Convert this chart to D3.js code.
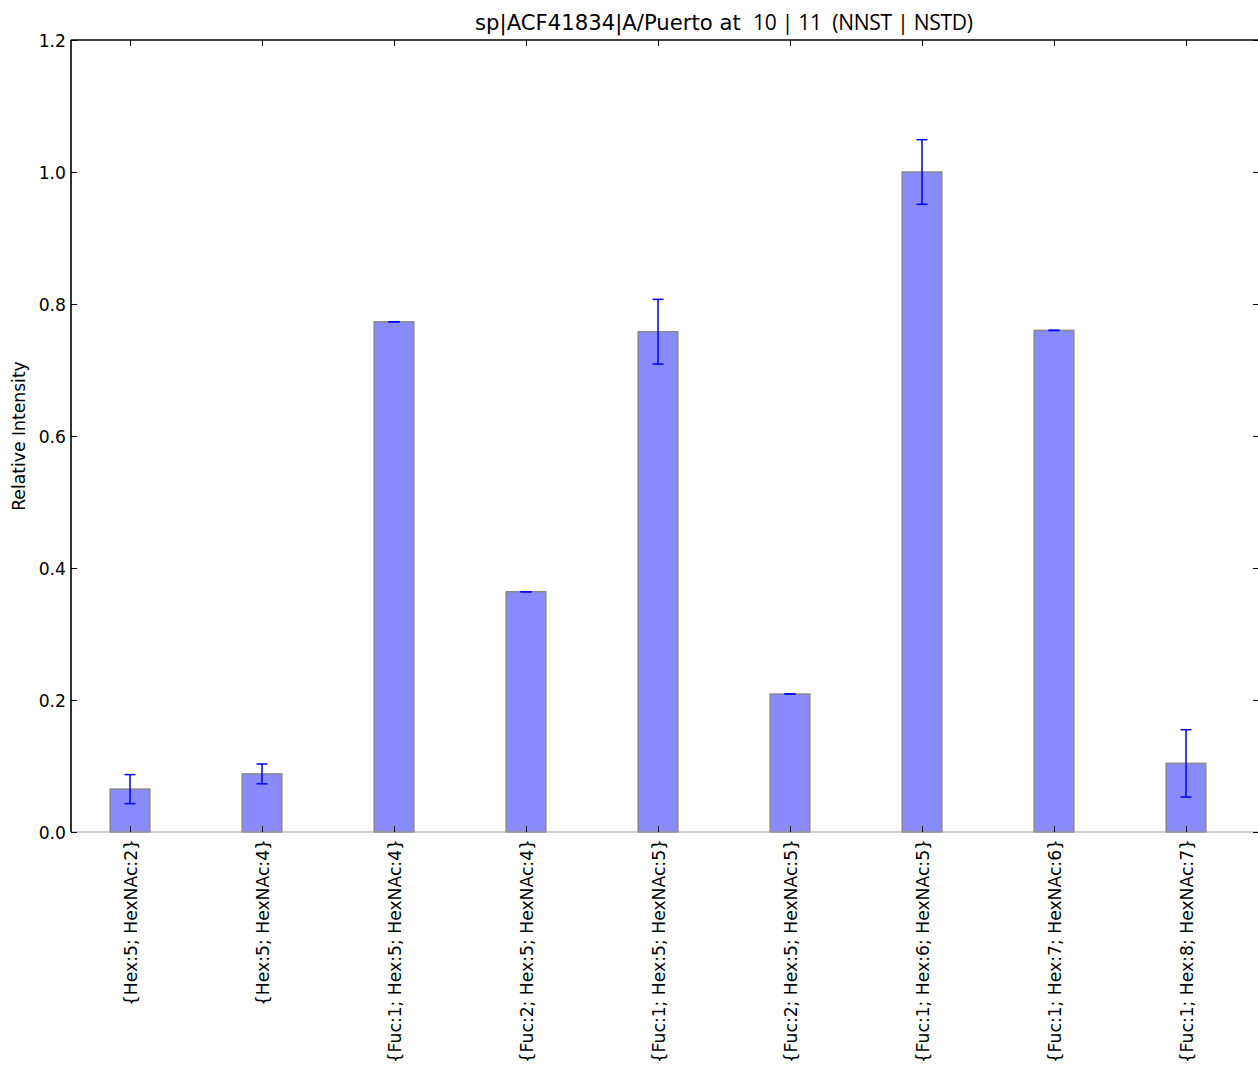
<!DOCTYPE html>
<html><head><meta charset="utf-8">
<script src="https://cdn.jsdelivr.net/npm/d3@7"></script>
<style>body{margin:0;background:#fff}svg{display:block}text{font-family:"DejaVu Sans",sans-serif}</style>
</head><body><div id="chart"></div>
<script>
const categories = ["{Hex:5; HexNAc:2}","{Hex:5; HexNAc:4}","{Fuc:1; Hex:5; HexNAc:4}","{Fuc:2; Hex:5; HexNAc:4}","{Fuc:1; Hex:5; HexNAc:5}","{Fuc:2; Hex:5; HexNAc:5}","{Fuc:1; Hex:6; HexNAc:5}","{Fuc:1; Hex:7; HexNAc:6}","{Fuc:1; Hex:8; HexNAc:7}"];
const values = [0.065, 0.088, 0.773, 0.364, 0.758, 0.209, 1.0, 0.760, 0.104];
const errors = [0.022, 0.015, 0.0, 0.0, 0.049, 0.0, 0.049, 0.0, 0.051];
const yTicks = [0.0, 0.2, 0.4, 0.6, 0.8, 1.0, 1.2];
const titleMain = "sp|ACF41834|A/Puerto at";
const titleSite = "10 | 11  (NNST | NSTD)";
const yLabel = "Relative Intensity";

const W = 1258, H = 1072;
const m = {left:71, right:1259, top:40, bottom:832};
const svg = d3.select("#chart").append("svg").attr("width", W).attr("height", H);

const x = d3.scaleLinear().domain([-0.447, categories.length - 1 + 0.553]).range([m.left, m.right]);
const y = d3.scaleLinear().domain([0, 1.2]).range([m.bottom, m.top]);
const barW = x(0.3) - x(0);
const FS = "17.2px";

// bars
svg.append("g").selectAll("rect").data(values).join("rect")
  .attr("x", (d,i) => x(i) - barW/2)
  .attr("y", d => y(d))
  .attr("width", barW)
  .attr("height", d => y(0) - y(d))
  .attr("fill", "#8a8aff")
  .attr("stroke", "#888888")
  .attr("stroke-width", 1.5);

// error bars
const eg = svg.append("g").attr("stroke", "#0000ff").attr("stroke-width", 1.5);
values.forEach((v,i) => {
  const e = errors[i];
  const cx = x(i);
  eg.append("line").attr("x1", cx).attr("x2", cx).attr("y1", y(v+e)).attr("y2", y(v-e));
  eg.append("line").attr("x1", cx-5.5).attr("x2", cx+5.5).attr("y1", y(v+e)).attr("y2", y(v+e));
  eg.append("line").attr("x1", cx-5.5).attr("x2", cx+5.5).attr("y1", y(v-e)).attr("y2", y(v-e));
});

// spines
svg.append("line").attr("x1", m.left).attr("x2", m.right).attr("y1", m.bottom).attr("y2", m.bottom).attr("stroke", "#a0a0a0").attr("stroke-width", 1.2);
svg.append("line").attr("x1", m.left).attr("x2", m.right).attr("y1", m.top).attr("y2", m.top).attr("stroke", "#000").attr("stroke-width", 1.6);
svg.append("line").attr("x1", m.left).attr("x2", m.left).attr("y1", m.top).attr("y2", m.bottom).attr("stroke", "#000").attr("stroke-width", 1.6);
svg.append("line").attr("x1", m.right).attr("x2", m.right).attr("y1", m.top).attr("y2", m.bottom).attr("stroke", "#000").attr("stroke-width", 1.6);

// y axis (ticks inward)
const yAxis = svg.append("g").attr("transform", `translate(${m.left},0)`)
  .call(d3.axisRight(y).tickValues(yTicks).tickSize(6).tickFormat(d3.format(".1f")));
yAxis.select(".domain").remove();
yAxis.selectAll("line").attr("stroke", "#000");
yAxis.selectAll("text").attr("x", -5).attr("text-anchor", "end").attr("dy", "0.35em")
  .style("font-size", FS).attr("fill", "#000").style("font-family", '"DejaVu Sans",sans-serif');
const yAxisR = svg.append("g").attr("transform", `translate(${m.right},0)`)
  .call(d3.axisLeft(y).tickValues(yTicks).tickSize(6).tickFormat(""));
yAxisR.select(".domain").remove();
yAxisR.selectAll("line").attr("stroke", "#000");

// x axis bottom
const xAxis = svg.append("g").attr("transform", `translate(0,${m.bottom})`)
  .call(d3.axisTop(x).tickValues(d3.range(categories.length)).tickSize(6).tickFormat(i => categories[i]));
xAxis.select(".domain").remove();
xAxis.selectAll("line").attr("stroke", "#000");
xAxis.selectAll("text")
  .attr("transform", "rotate(-90)")
  .attr("x", -7).attr("y", 0).attr("dy", "0.35em")
  .attr("text-anchor", "end")
  .style("font-size", FS).attr("fill", "#000").style("font-family", '"DejaVu Sans",sans-serif');
const xAxisT = svg.append("g").attr("transform", `translate(0,${m.top})`)
  .call(d3.axisBottom(x).tickValues(d3.range(categories.length)).tickSize(6).tickFormat(""));
xAxisT.select(".domain").remove();
xAxisT.selectAll("line").attr("stroke", "#000");

// y label
svg.append("text").attr("transform", `translate(25,${(m.top+m.bottom)/2}) rotate(-90)`)
  .attr("text-anchor", "middle").style("font-size", FS).text(yLabel);

// title
svg.append("text").attr("x", 475).attr("y", 30).style("font-size", "21.2px")
  .style("font-family", '"DejaVu Sans",sans-serif').text(titleMain);
svg.append("text").attr("x", 753).attr("y", 30).style("font-size", "21px")
  .style("font-family", '"Open Sans","Noto Sans",sans-serif').style("white-space","pre")
  .attr("textLength", 220).attr("lengthAdjust", "spacing").text(titleSite);
</script></body></html>
